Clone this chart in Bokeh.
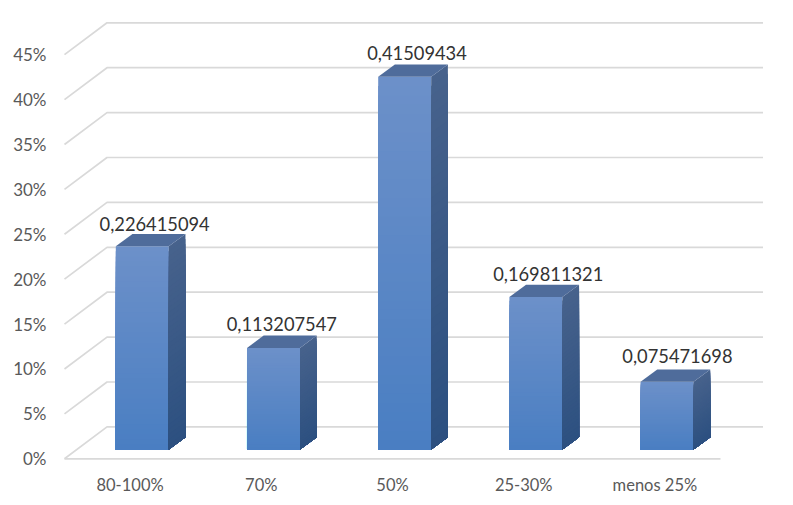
from bokeh.plotting import figure
from bokeh.embed import file_html
from bokeh.resources import INLINE
from bokeh.models import FixedTicker, NumeralTickFormatter, Range1d, ColumnDataSource
from bokeh.core.properties import value

categories = ["80-100%", "70%", "50%", "25-30%", "menos 25%"]
shares = [0.226415094, 0.113207547, 0.41509434, 0.169811321, 0.075471698]
share_labels = ["0,226415094", "0,113207547", "0,41509434", "0,169811321", "0,075471698"]
y_ticks = [0, 0.05, 0.10, 0.15, 0.20, 0.25, 0.30, 0.35, 0.40, 0.45]

# projection of the 3D box, in axis units
FLOOR_DX, FLOOR_DY = 0.324, 0.0355
BAR_W = 0.404
BAR_DX, BAR_DY = 0.127, 0.0137
BAR_SHIFT_X, BAR_SHIFT_Y = 0.093, 0.0103
STEPS = 40
LABEL_DX = [4, 0, 4, 4, 2]
LABEL_DY = [-22, -24, -24, -23, -26]

def mix(a, b, t):
    return "#%02x%02x%02x" % tuple(round(a[k] + (b[k] - a[k]) * t) for k in range(3))

FRONT = ((0x6c, 0x90, 0xc9), (0x49, 0x7e, 0xc2))
SIDE = ((0x47, 0x62, 0x8c), (0x2c, 0x50, 0x80))
TOP = "#4f6c9b"

PX_X, PX_Y = 131.2, 900.0
W, H = 785, 497
LEFT, BOTTOM = 55, 36
x0_page, y0_page = 64.0, 459.3

p = figure(width=W, height=H, output_backend="svg", toolbar_location=None,
           min_border_left=LEFT, min_border_bottom=BOTTOM, min_border_top=0, min_border_right=0,
           x_range=Range1d((LEFT - x0_page) / PX_X, (W - x0_page) / PX_X),
           y_range=Range1d((y0_page - (H - BOTTOM)) / PX_Y, y0_page / PX_Y))
p.outline_line_color = None
p.grid.visible = False
p.background_fill_color = "white"

# walls
xs = [[0, FLOOR_DX, 5 + FLOOR_DX] for _ in y_ticks] + [[0, 5]]
ys = [[v, v + FLOOR_DY, v + FLOOR_DY] for v in y_ticks] + [[0, 0]]
p.multi_line(xs, ys, line_color="#d9d9d9", line_width=1.7)

# bars
px, py, pc = [], [], []
for i, v in enumerate(shares):
    l = i + 0.5 - BAR_W / 2 + BAR_SHIFT_X
    r = l + BAR_W
    b = BAR_SHIFT_Y
    t = b + v
    for s in range(STEPS):
        f = s / STEPS
        lev = t - v * f
        c = mix(FRONT[0], FRONT[1], f)
        px.append([l, r, r, l]); py.append([b, b, lev, lev]); pc.append(c)
    for s in range(STEPS):
        f = s / STEPS
        lev = t - v * f
        c = mix(SIDE[0], SIDE[1], f)
        px.append([r, r + BAR_DX, r + BAR_DX, r])
        py.append([b, b + BAR_DY, lev + BAR_DY, lev]); pc.append(c)
    px.append([l, r, r + BAR_DX, l + BAR_DX])
    py.append([t, t, t + BAR_DY, t + BAR_DY]); pc.append(TOP)
p.patches(px, py, fill_color=pc, line_color=None)

# data labels
src = ColumnDataSource(dict(
    x=[i + 0.5 + BAR_SHIFT_X + BAR_DX / 2 for i in range(5)],
    y=[v + BAR_SHIFT_Y for v in shares],
    t=share_labels, dx=LABEL_DX, dy=LABEL_DY))
p.text("x", "y", text="t", x_offset="dx", y_offset="dy", source=src,
       text_font=value("Lato"), text_font_size="18.3px", text_color="#333333",
       text_align="center", text_baseline="middle")

# axes
ya = p.yaxis[0]
ya.ticker = FixedTicker(ticks=y_ticks)
ya.formatter = NumeralTickFormatter(format="0%")
ya.axis_line_color = None
ya.major_tick_line_color = None
ya.minor_tick_line_color = None
ya.major_tick_in = 0
ya.major_tick_out = 0
ya.major_label_standoff = 9
ya.major_label_text_font = "Lato"
ya.major_label_text_font_size = "17px"
ya.major_label_text_color = "#595959"

xa = p.xaxis[0]
xa.ticker = FixedTicker(ticks=[i + 0.5 for i in range(5)])
xa.major_label_overrides = {i + 0.5: c for i, c in enumerate(categories)}
xa.axis_line_color = None
xa.major_tick_line_color = None
xa.minor_tick_line_color = None
xa.major_tick_in = 0
xa.major_tick_out = 0
xa.major_label_standoff = 14
xa.major_label_text_font = "Lato"
xa.major_label_text_font_size = "16.5px"
xa.major_label_text_color = "#595959"

open("out.html", "w").write(file_html(p, INLINE))
